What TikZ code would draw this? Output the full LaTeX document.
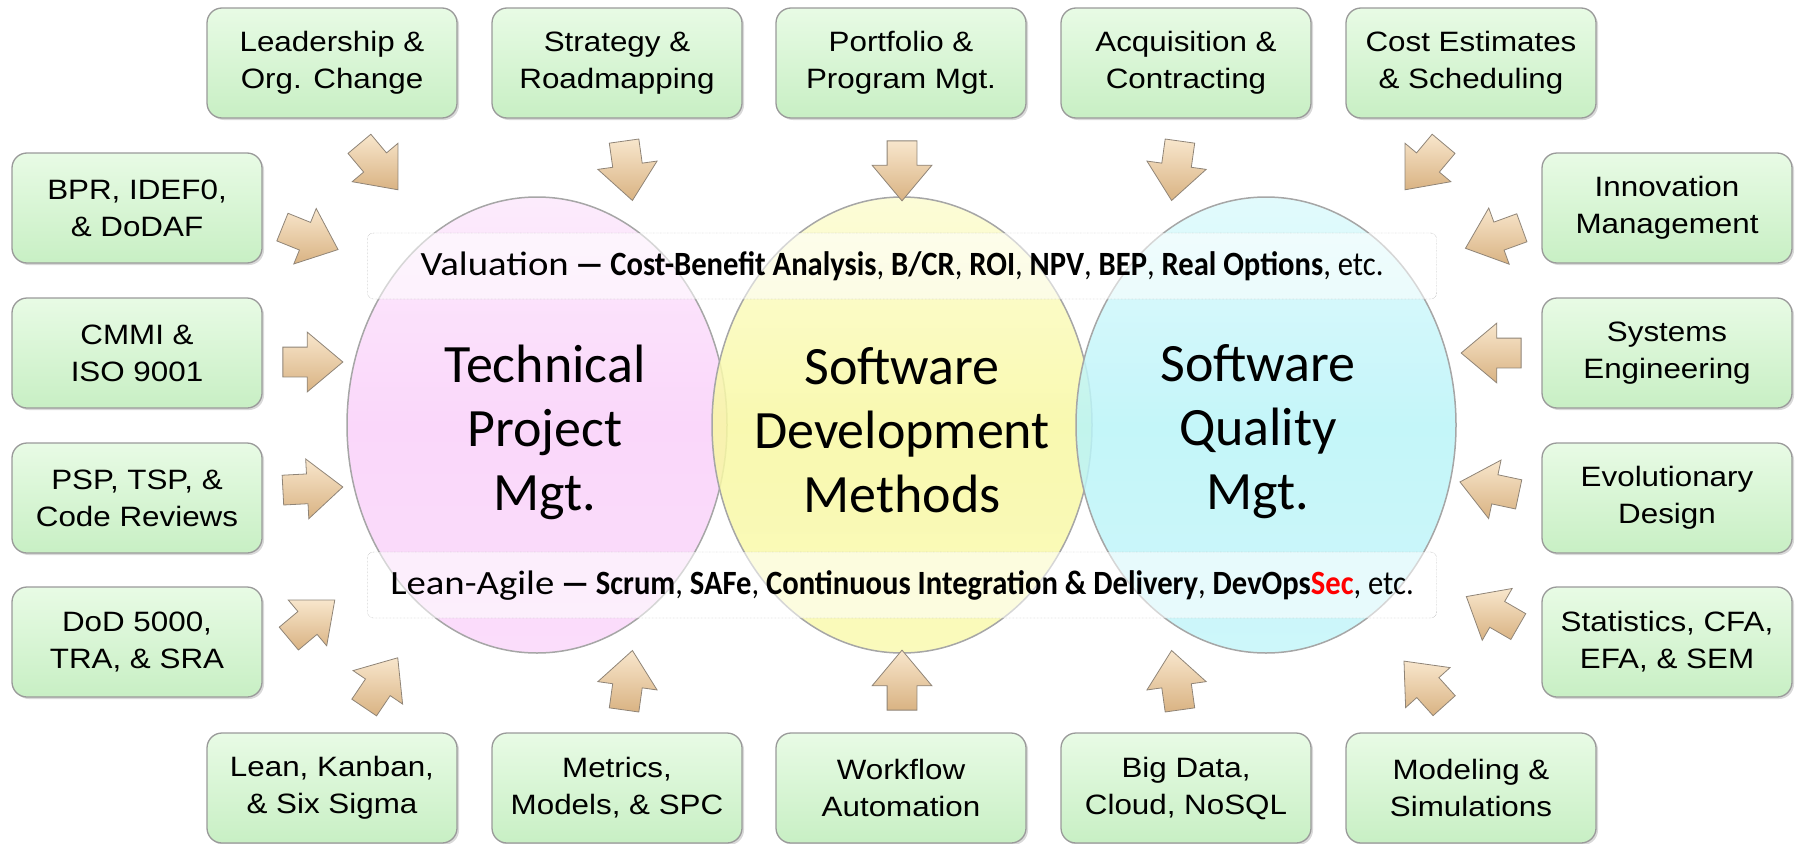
\documentclass[tikz,border=0pt]{standalone}
\usepackage{fontspec}
\setmainfont{Liberation Sans}
\newfontfamily\boxfont[FakeStretch=1.12]{Liberation Sans}
\newfontfamily\vennfont{Carlito}
\newfontfamily\bandfont[FakeStretch=0.9]{Carlito}
\newfontfamily\bandwide[FakeStretch=1.14]{Carlito}
\usepackage{tikz}
\usetikzlibrary{shapes.geometric,shapes.arrows,shadows}

\definecolor{pinkc}{HTML}{F9D0F9}
\definecolor{yellowc}{HTML}{F8F8A2}
\definecolor{cyanc}{HTML}{BAF4F8}
\definecolor{boxtop}{HTML}{E8FBE5}
\definecolor{boxbot}{HTML}{C8EFC4}
\definecolor{boxline}{HTML}{9A9A9A}
\definecolor{arrowhi}{HTML}{F8E6CC}
\definecolor{arrowlo}{HTML}{D9B383}
\definecolor{arrowline}{HTML}{8F8477}

\tikzset{
  topic/.style={draw=boxline, line width=1.3pt, rounded corners=15pt,
    top color=boxtop, bottom color=boxbot,
    minimum width=250pt, minimum height=110pt, align=center,
    font=\boxfont\fontsize{28}{37}\selectfont,
    drop shadow={shadow xshift=2pt, shadow yshift=-2pt, opacity=0.3}},
  fatarrow/.style={single arrow, single arrow head extend=15pt,
    single arrow tip angle=80, minimum height=60pt, minimum width=1pt,
    inner xsep=0pt, inner ysep=14.5pt,
    draw=arrowline, line width=0.8pt, top color=arrowhi, bottom color=arrowlo},
  venn/.style={ellipse, minimum width=380pt, minimum height=456pt,
    draw=black!35, line width=1.5pt, fill opacity=0.85,
    top color=#1!50!white, bottom color=#1!85!white, middle color=#1},
  venntext/.style={align=center, font=\vennfont\fontsize{54}{64}\selectfont},
  band/.style={draw=black!45, densely dotted, rounded corners=6pt,
    fill=white, fill opacity=0.55, text opacity=1,
    minimum width=1069pt, minimum height=66pt,
    font=\bandfont\fontsize{34}{40}\selectfont}
}

\begin{document}
\begin{tikzpicture}

  \useasboundingbox (0pt,0pt) rectangle (1795pt,-843pt);

  %% circles
  \node[venn=pinkc]   (tpm) at ( 537pt,-425pt) {};
  \node[venn=yellowc] (sdm) at ( 902pt,-425pt) {};
  \node[venn=cyanc]   (sqm) at (1266pt,-425pt) {};

  %% bands
  \node[band] (valu) at (902pt,-266pt)
  {{\bandwide Valuation} \textbf{— Cost-Benefit Analysis}, \textbf{B/CR}, \textbf{ROI},
    \textbf{NPV}, \textbf{BEP}, \textbf{Real Options}, etc.};
  \node[band] (agile) at (902pt,-585pt)
  {{\bandwide Lean-Agile} \textbf{— Scrum}, \textbf{SAFe}, \textbf{Continuous Integration
    \& Delivery}, \textbf{DevOps\textcolor{red}{Sec}}, etc.};

  %% circle titles
  \node[venntext] (tpm-title) at ( 545pt,-432pt) {Technical\\Project\\Mgt.};
  \node[venntext] (sdm-title) at ( 902pt,-430pt) {Software\\Development\\Methods};
  \node[venntext] (sqm-title) at (1258pt,-432pt) {Software\\Quality\\Mgt.};

  %% top row
  \node[topic] (lead)  at ( 332pt, -63pt) {Leadership \&\\Org. Change};
  \node[topic] (strat) at ( 617pt, -63pt) {Strategy \&\\Roadmapping};
  \node[topic] (port)  at ( 901pt, -63pt) {Portfolio \&\\Program Mgt.};
  \node[topic] (acq)   at (1186pt, -63pt) {Acquisition \&\\Contracting};
  \node[topic] (cost)  at (1471pt, -63pt) {Cost Estimates\\\& Scheduling};

  %% left column
  \node[topic] (bpr)   at ( 137pt,-208pt) {BPR, IDEF0,\\\& DoDAF};
  \node[topic] (cmmi)  at ( 137pt,-353pt) {CMMI \&\\ISO 9001};
  \node[topic] (psp)   at ( 137pt,-498pt) {PSP, TSP, \&\\Code Reviews};
  \node[topic] (dod)   at ( 137pt,-642pt) {DoD 5000,\\TRA, \& SRA};

  %% right column
  \node[topic] (innov) at (1667pt,-208pt) {Innovation\\Management};
  \node[topic] (sys)   at (1667pt,-353pt) {Systems\\Engineering};
  \node[topic] (evol)  at (1667pt,-498pt) {Evolutionary\\Design};
  \node[topic] (stat)  at (1667pt,-642pt) {Statistics, CFA,\\EFA, \& SEM};

  %% bottom row
  \node[topic] (lean)  at ( 332pt,-788pt) {Lean, Kanban,\\\& Six Sigma};
  \node[topic] (metr)  at ( 617pt,-788pt) {Metrics,\\Models, \& SPC};
  \node[topic] (work)  at ( 901pt,-788pt) {Workflow\\Automation};
  \node[topic] (bigd)  at (1186pt,-788pt) {Big Data,\\Cloud, NoSQL};
  \node[topic] (model) at (1471pt,-788pt) {Modeling \&\\Simulations};

  %% arrows in
  \node[fatarrow, rotate= -50] (a-lead)  at ( 373pt,-160pt) {};
  \node[fatarrow, rotate= -82] (a-strat) at ( 627pt,-162pt) {};
  \node[fatarrow, rotate= -90] (a-port)  at ( 902pt,-162pt) {};
  \node[fatarrow, rotate= -98] (a-acq)   at (1177pt,-162pt) {};
  \node[fatarrow, rotate=-130] (a-cost)  at (1430pt,-160pt) {};

  \node[fatarrow, rotate= -22] (a-bpr)   at ( 302pt,-235pt) {};
  \node[fatarrow, rotate=   0] (a-cmmi)  at ( 304pt,-362pt) {};
  \node[fatarrow, rotate=   3] (a-psp)   at ( 304pt,-489pt) {};
  \node[fatarrow, rotate=  40] (a-dod)   at ( 305pt,-625pt) {};

  \node[fatarrow, rotate=  56] (a-lean)  at ( 376pt,-690pt) {};
  \node[fatarrow, rotate=  82] (a-metr)  at ( 627pt,-689pt) {};
  \node[fatarrow, rotate=  90] (a-work)  at ( 902pt,-689pt) {};
  \node[fatarrow, rotate=  98] (a-bigd)  at (1177pt,-689pt) {};
  \node[fatarrow, rotate= 132] (a-model) at (1430pt,-690pt) {};

  \node[fatarrow, rotate= 200] (a-innov) at (1502pt,-235pt) {};
  \node[fatarrow, rotate= 180] (a-sys)   at (1500pt,-353pt) {};
  \node[fatarrow, rotate= 168] (a-evol)  at (1498pt,-490pt) {};
  \node[fatarrow, rotate= 150] (a-stat)  at (1500pt,-616pt) {};

\end{tikzpicture}
\end{document}
